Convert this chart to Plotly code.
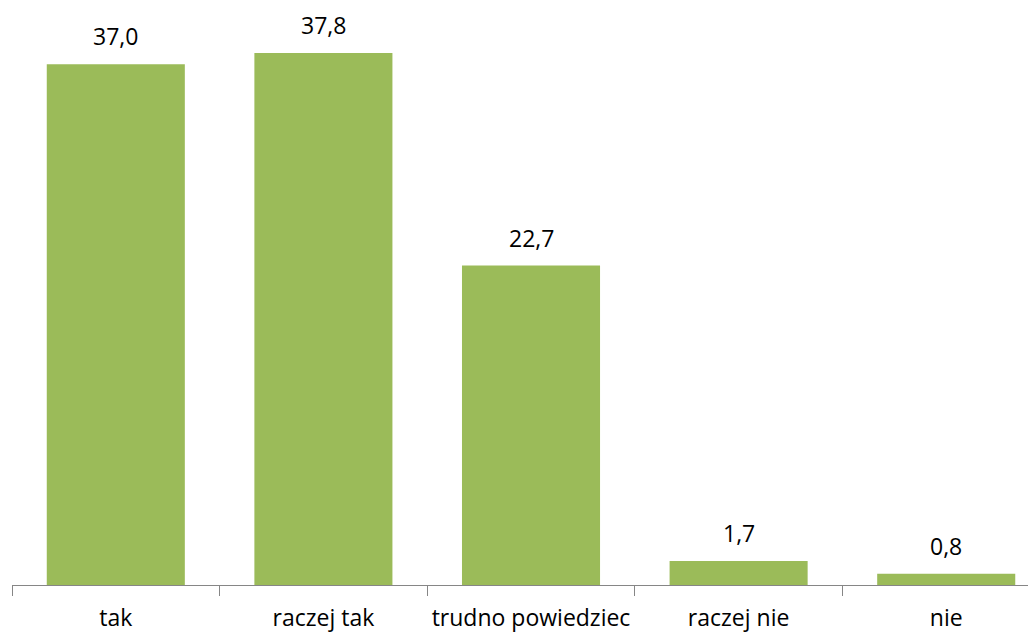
import plotly.graph_objects as go

categories = ["tak", "raczej tak", "trudno powiedziec", "raczej nie", "nie"]
values = [37.0, 37.8, 22.7, 1.7, 0.8]
labels = [f"{v:.1f}".replace(".", ",") for v in values]

fig = go.Figure(go.Bar(
    x=categories, y=values,
    marker=dict(color="#9BBB59", line=dict(width=0)),
    width=0.665,
))

for c, v, t in zip(categories, values, labels):
    fig.add_annotation(
        x=c, y=v, text=t, showarrow=False,
        yanchor="bottom", yshift=10,
        font=dict(family="Open Sans", size=23, color="#000000"),
    )

fig.update_layout(
    width=1036, height=632,
    margin=dict(l=4, r=0, t=0, b=55, autoexpand=False),
    plot_bgcolor="white", paper_bgcolor="white",
    showlegend=False,
    xaxis=dict(
        type="category",
        range=[-0.5, 4.471],
        tickson="boundaries",
        tickangle=0,
        ticks="outside", ticklen=10, tickcolor="#868686", tickwidth=1,
        ticklabelstandoff=12,
        showline=True, linecolor="#868686", linewidth=1,
        tickfont=dict(family="Open Sans", size=23, color="#000000"),
        showgrid=False,
        automargin=False,
    ),
    yaxis=dict(
        range=[0, 41.0],
        visible=False,
        showgrid=False,
        zeroline=False,
    ),
)

fig.write_html("out.html")
